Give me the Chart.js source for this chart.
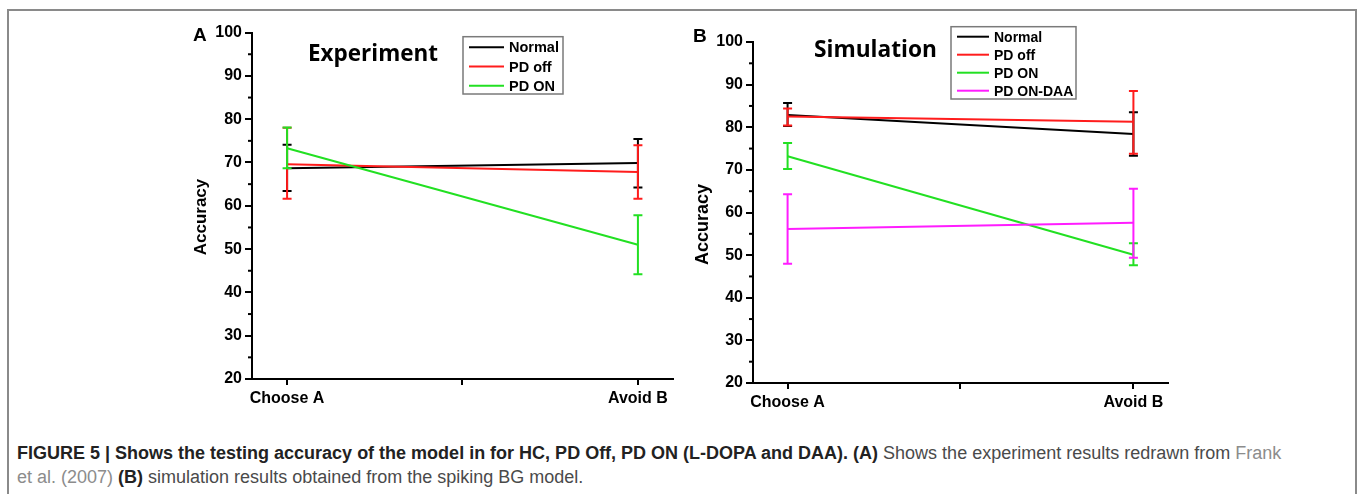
<!DOCTYPE html>
<html>
<head>
<meta charset="utf-8">
<script src="https://cdn.jsdelivr.net/npm/chart.js@4/dist/chart.umd.min.js"></script>
<style>
  html,body{margin:0;padding:0;background:#fff;}
  body{width:1357px;height:494px;overflow:hidden;position:relative;font-family:"Liberation Sans",Arial,sans-serif;}
  #frame{position:absolute;left:7px;top:9px;width:1350px;height:520px;border:2px solid #8a8a8a;box-sizing:border-box;}
  #wrapA{position:absolute;left:180px;top:20px;width:500px;height:400px;}
  #wrapB{position:absolute;left:680px;top:20px;width:520px;height:400px;}
  #caption{position:absolute;left:17px;top:441px;font-size:18px;line-height:24px;color:#4a4a4a;white-space:nowrap;}
  #caption b{color:#222;}
  #caption .lnk{color:#8c8c8c;}
</style>
</head>
<body>
<div id="frame"></div>
<div id="wrapA"><canvas id="chartA" width="500" height="400"></canvas></div>
<div id="wrapB"><canvas id="chartB" width="520" height="400"></canvas></div>
<div id="caption"><b>FIGURE 5 | Shows the testing accuracy of the model in for HC, PD Off, PD ON (L-DOPA and DAA). (A)</b> Shows the experiment results redrawn from <span class="lnk">Frank</span><br><span class="lnk">et al. (2007)</span> <b>(B)</b> simulation results obtained from the spiking BG model.</div>
<script>
// ---------- data ----------
const categories = ['Choose A', 'Avoid B'];
const yTicksMajor = [20, 30, 40, 50, 60, 70, 80, 90, 100];

// Panel A: Experiment
const seriesNamesA = ['Normal', 'PD off', 'PD ON'];
const normalA     = [68.7, 69.9];
const normalALow  = [63.4, 64.2];
const normalAHigh = [74.1, 75.4];
const pdOffA      = [69.6, 67.8];
const pdOffALow   = [61.6, 61.6];
const pdOffAHigh  = [78.0, 74.0];
const pdOnA       = [73.3, 51.0];
const pdOnALow    = [68.7, 44.2];
const pdOnAHigh   = [78.1, 57.8];

// Panel B: Simulation
const seriesNamesB = ['Normal', 'PD off', 'PD ON', 'PD ON-DAA'];
const normalB     = [82.9, 78.4];
const normalBLow  = [80.3, 73.3];
const normalBHigh = [85.7, 83.5];
const pdOffB      = [82.5, 81.3];
const pdOffBLow   = [80.4, 73.8];
const pdOffBHigh  = [84.4, 88.5];
const pdOnB       = [73.2, 50.1];
const pdOnBLow    = [70.2, 47.6];
const pdOnBHigh   = [76.3, 52.8];
const daaB        = [56.1, 57.6];
const daaBLow     = [48.0, 49.4];
const daaBHigh    = [64.3, 65.6];

const colors = ['#000000', '#ff1c1c', '#22e022', '#ff1cff'];

// ---------- helpers ----------
function makeDataset(label, vals, low, high, idx, total) {
  return {
    label: label,
    data: vals.map((v, i) => ({x: i, y: v})),
    errLow: low, errHigh: high,
    borderColor: colors[idx], backgroundColor: colors[idx],
    borderWidth: 2, pointRadius: 0, tension: 0, fill: false,
    order: total - idx
  };
}

const errorBarPlugin = {
  id: 'errorBars',
  afterDatasetDraw(chart, args) {
    const ds = chart.data.datasets[args.index];
    const xs = chart.scales.x, ys = chart.scales.y;
    const ctx = chart.ctx;
    ctx.save();
    ctx.strokeStyle = ds.borderColor;
    ctx.lineWidth = 2;
    ds.data.forEach((p, i) => {
      const x = xs.getPixelForValue(p.x);
      const yl = ys.getPixelForValue(ds.errLow[i]);
      const yh = ys.getPixelForValue(ds.errHigh[i]);
      ctx.beginPath();
      ctx.moveTo(x, yl); ctx.lineTo(x, yh);
      ctx.moveTo(x - 4.5, yl); ctx.lineTo(x + 4.5, yl);
      ctx.moveTo(x - 4.5, yh); ctx.lineTo(x + 4.5, yh);
      ctx.stroke();
    });
    ctx.restore();
  }
};

const decorPlugin = {
  id: 'decor',
  afterDraw(chart, args, o) {
    const ctx = chart.ctx;
    const ys = chart.scales.y;
    const ca = chart.chartArea;
    ctx.save();
    // minor y ticks
    ctx.strokeStyle = '#000'; ctx.lineWidth = 2;
    for (let v = 25; v < 100; v += 10) {
      const y = ys.getPixelForValue(v);
      ctx.beginPath(); ctx.moveTo(ca.left - 4, y); ctx.lineTo(ca.left, y); ctx.stroke();
    }
    ctx.fillStyle = '#000';
    // panel letter
    ctx.font = 'bold ' + o.letterSize + 'px "Liberation Sans", Arial, sans-serif';
    ctx.textAlign = 'left'; ctx.textBaseline = 'alphabetic';
    ctx.fillText(o.letter, o.letterX, o.letterY);
    // title fitted to width
    let fs = 23;
    ctx.font = 'bold ' + fs + 'px "Open Sans", sans-serif';
    const w = ctx.measureText(o.title).width;
    fs = fs * o.titleW / w;
    ctx.font = 'bold ' + fs.toFixed(2) + 'px "Open Sans", sans-serif';
    ctx.fillText(o.title, o.titleX, o.titleY);
    // axis title
    ctx.save();
    ctx.translate(o.axX, o.axY);
    ctx.rotate(-Math.PI / 2);
    ctx.font = 'bold ' + o.axSize + 'px "Liberation Sans", Arial, sans-serif';
    ctx.textAlign = 'center'; ctx.textBaseline = 'middle';
    ctx.fillText('Accuracy', 0, 0);
    ctx.restore();
    // legend
    const L = o.legend;
    ctx.strokeStyle = '#7a7a7a'; ctx.lineWidth = 1.5;
    ctx.strokeRect(L.x, L.y, L.w, L.h);
    ctx.font = 'bold ' + L.size + 'px "Liberation Sans", Arial, sans-serif';
    ctx.textAlign = 'left'; ctx.textBaseline = 'middle';
    chart.data.datasets.forEach((ds, i) => {
      const y = L.row0 + i * L.rowH;
      ctx.strokeStyle = ds.borderColor; ctx.lineWidth = 2;
      ctx.beginPath(); ctx.moveTo(L.lx0, y); ctx.lineTo(L.lx1, y); ctx.stroke();
      ctx.fillStyle = '#000';
      ctx.fillText(ds.label, L.tx, y + 1);
    });
    ctx.restore();
  }
};

function makeOptions(cfg) {
  return {
    responsive: false,
    animation: false,
    layout: {padding: {top: cfg.padTop, right: cfg.padRight, left: 0, bottom: 0}},
    plugins: {
      legend: {display: false},
      tooltip: {enabled: false},
      decor: cfg.decor
    },
    scales: {
      x: {
        type: 'linear', min: -0.1, max: 1.1,
        afterBuildTicks: s => { s.ticks = [{value: 0}, {value: 0.5}, {value: 1}]; },
        afterFit: s => { s.height = cfg.xH; },
        ticks: {
          callback: v => (v === 0 ? categories[0] : (v === 1 ? categories[1] : '')),
          color: '#000', font: {family: '"Liberation Sans", Arial, sans-serif', size: 16, weight: 'bold'},
          padding: 4, maxRotation: 0, autoSkip: false
        },
        grid: {display: true, drawOnChartArea: false, drawTicks: true, tickLength: 6, tickWidth: 2, tickColor: '#000', lineWidth: 2, color: '#000'},
        border: {display: true, color: '#000', width: 2}
      },
      y: {
        min: 20, max: 100,
        afterBuildTicks: s => { s.ticks = yTicksMajor.map(v => ({value: v})); },
        afterFit: s => { s.width = cfg.yW; },
        ticks: {
          color: '#000', font: {family: '"Liberation Sans", Arial, sans-serif', size: 16, weight: 'bold'},
          padding: 3
        },
        grid: {display: true, drawOnChartArea: false, drawTicks: true, tickLength: 7, tickWidth: 2, tickColor: '#000', lineWidth: 2, color: '#000'},
        border: {display: true, color: '#000', width: 2}
      }
    }
  };
}

new Chart(document.getElementById('chartA'), {
  type: 'line',
  data: {datasets: [
    makeDataset(seriesNamesA[0], normalA, normalALow, normalAHigh, 0, 3),
    makeDataset(seriesNamesA[1], pdOffA, pdOffALow, pdOffAHigh, 1, 3),
    makeDataset(seriesNamesA[2], pdOnA, pdOnALow, pdOnAHigh, 2, 3)
  ]},
  options: makeOptions({
    padTop: 12, padRight: 7, yW: 72, xH: 41,
    decor: {
      letter: 'A', letterSize: 19, letterX: 13, letterY: 21,
      title: 'Experiment', titleX: 128, titleY: 40.5, titleW: 130,
      axX: 21, axY: 197, axSize: 17,
      legend: {x: 283, y: 16.7, w: 100, h: 57.3, size: 14.5, row0: 27.3, rowH: 19.2, lx0: 289, lx1: 324, tx: 329}
    }
  }),
  plugins: [errorBarPlugin, decorPlugin]
});

new Chart(document.getElementById('chartB'), {
  type: 'line',
  data: {datasets: [
    makeDataset(seriesNamesB[0], normalB, normalBLow, normalBHigh, 0, 4),
    makeDataset(seriesNamesB[1], pdOffB, pdOffBLow, pdOffBHigh, 1, 4),
    makeDataset(seriesNamesB[2], pdOnB, pdOnBLow, pdOnBHigh, 2, 4),
    makeDataset(seriesNamesB[3], daaB, daaBLow, daaBHigh, 3, 4)
  ]},
  options: makeOptions({
    padTop: 22, padRight: 32, yW: 73, xH: 37,
    decor: {
      letter: 'B', letterSize: 19, letterX: 13, letterY: 21.7,
      title: 'Simulation', titleX: 134, titleY: 37.3, titleW: 123,
      axX: 23, axY: 204.5, axSize: 18,
      legend: {x: 271, y: 6.7, w: 125, h: 72.3, size: 14, row0: 16.7, rowH: 18, lx0: 277, lx1: 309, tx: 314}
    }
  }),
  plugins: [errorBarPlugin, decorPlugin]
});
</script>
</body>
</html>
